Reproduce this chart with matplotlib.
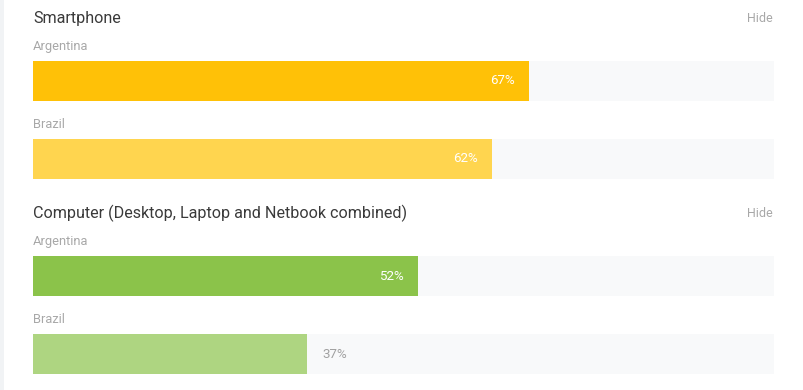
import matplotlib
matplotlib.use("Agg")
import matplotlib.pyplot as plt
from matplotlib.patches import Rectangle

plt.rcParams['font.family'] = ['Roboto', 'DejaVu Sans']

groups = ["Smartphone", "Computer (Desktop, Laptop and Netbook combined)"]
countries = ["Argentina", "Brazil"]
values = [[67, 62], [52, 37]]
colors = [["#FFC107", "#FFD54F"], ["#8BC34A", "#AED581"]]

W, H = 804, 390
fig = plt.figure(figsize=(W / 100, H / 100), dpi=100)
fig.patch.set_facecolor("white")

def fx(x):
    return x / W

def fy(y):
    return 1 - y / H

# left border strip
fig.add_artist(Rectangle((0, 0), fx(4), 1, transform=fig.transFigure,
                         facecolor="#F1F3F5", edgecolor="none"))

track_left, track_width, bar_h = 33, 741, 40
group_top = [18.5, 213.5]
for gi, g in enumerate(groups):
    ty = group_top[gi]
    fig.text(fx(33), fy(ty), g, fontsize=11.6, color="#3A3A3A", va="center", ha="left")
    fig.text(fx(773), fy(ty), "Hide", fontsize=9, color="#A8A8A8", va="center", ha="right")
    for ci, c in enumerate(countries):
        ly = ty + 28 + ci * 78
        fig.text(fx(33), fy(ly), c, fontsize=9.3, color="#A8A8A8", va="center", ha="left")
        btop = group_top[gi] - 0.5 + 43 + ci * 78
        ax = fig.add_axes([fx(track_left), fy(btop + bar_h), fx(track_width), bar_h / H])
        ax.set_xlim(0, 100)
        ax.set_ylim(-0.5, 0.5)
        ax.axis("off")
        ax.barh([0], [100], height=1.0, color="#F8F9FA", edgecolor="none")
        v = values[gi][ci]
        ax.barh([0], [v], height=1.0, color=colors[gi][ci], edgecolor="none")
        off = 15 / track_width * 100
        if v >= 45:
            ax.text(v - off, 0, f"{v}%", color="white", fontsize=9.6, va="center", ha="right")
        else:
            ax.text(v + off, 0, f"{v}%", color="#A0A0A0", fontsize=9.6, va="center", ha="left")

fig.savefig("out.png", dpi=100, facecolor="white")
